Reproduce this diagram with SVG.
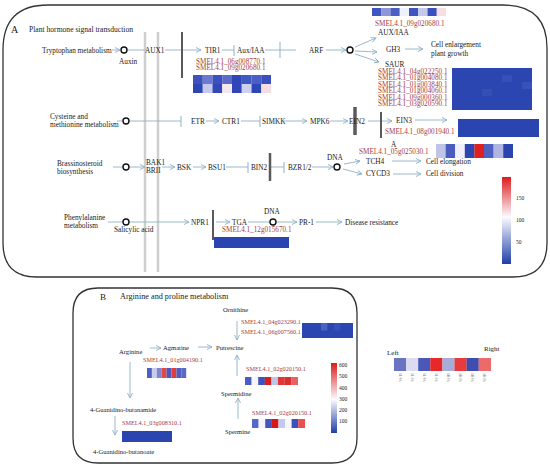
<svg xmlns="http://www.w3.org/2000/svg" width="550" height="468" viewBox="0 0 550 468">
<defs>
<style>
text{font-family:"Liberation Serif","Times New Roman",serif;fill:#1a1a1a;font-size:7.3px}
.g{fill:#a83c3c;font-size:7.2px}
.gb{fill:#a83c3c;font-size:6.2px}
.b{font-size:6.6px}
.c{stroke:#8fb1c6;stroke-width:0.9;fill:none}
.a{marker-end:url(#arr)}
.t{stroke:#8fb1c6;stroke-width:1}
.o{fill:#fff;stroke:#111;stroke-width:1.4}
.bar{stroke:#5a5a5a;stroke-width:3}
.gr{stroke:#cfcfcf;stroke-width:2.5}
.panel{fill:none;stroke:#333;stroke-width:1.3}
.lg{font-size:5.5px}
.sl{font-size:3.4px;fill:#777}
</style>
<marker id="arr" markerWidth="6" markerHeight="6" refX="5" refY="3" orient="auto" markerUnits="userSpaceOnUse">
<path d="M0,0.5 L5,3 L0,5.5" fill="none" stroke="#8fb1c6" stroke-width="0.9"/>
</marker>
<linearGradient id="cbA" x1="0" y1="0" x2="0" y2="1">
<stop offset="0" stop-color="#dd1c1c"/><stop offset="0.46" stop-color="#fbfbff"/><stop offset="1" stop-color="#1f3fa8"/>
</linearGradient>
<linearGradient id="cbB" x1="0" y1="0" x2="0" y2="1">
<stop offset="0" stop-color="#dd1c1c"/><stop offset="0.52" stop-color="#fbfbff"/><stop offset="1" stop-color="#1f3fa8"/>
</linearGradient>
</defs>
<rect width="550" height="468" fill="#fff"/>

<!-- Panel A frame -->
<path class="panel" d="M3,50 Q3,5 48,5 L503,5 Q547,5 547,48 L547,243 Q547,277 513,277 L37,277 Q3,277 3,243 Z"/>
<text x="11" y="33" style="font-size:10px">A</text>
<text x="29" y="32" style="font-size:7.6px">Plant hormone signal transduction</text>

<!-- membrane bars -->
<g id="membrane">
<line class="gr" x1="145" y1="32" x2="145" y2="272"/>
<line class="gr" x1="158" y1="32" x2="158" y2="272"/>
</g>

<!-- connectors -->
<g id="connectors">
<line class="c a" x1="112" y1="50" x2="120" y2="50"/>
<line class="c" x1="127" y1="50" x2="145" y2="50"/>
<line class="c a" x1="165" y1="50" x2="201" y2="50"/>
<line class="c" x1="222" y1="50" x2="234" y2="50"/><line class="t" x1="234" y1="45" x2="234" y2="56"/>
<line class="c" x1="265" y1="50" x2="296" y2="50"/><line class="t" x1="280" y1="42" x2="280" y2="58"/>
<line class="c a" x1="326" y1="50" x2="346" y2="50"/>
<line class="c a" x1="355" y1="47" x2="376" y2="38"/>
<line class="c a" x1="355" y1="51" x2="377" y2="52"/>
<line class="c a" x1="355" y1="54" x2="379" y2="62"/>
<line class="c a" x1="405" y1="49" x2="423" y2="49"/>

<line class="c" x1="117" y1="121" x2="123" y2="121"/>
<line class="c" x1="129" y1="121" x2="181" y2="121"/><line class="t" x1="181" y1="116" x2="181" y2="127"/>
<line class="c a" x1="206" y1="121" x2="219" y2="121"/>
<line class="c" x1="241" y1="121" x2="260" y2="121"/><line class="t" x1="260" y1="116" x2="260" y2="127"/>
<line class="c a" x1="284" y1="121" x2="307" y2="121"/>
<line class="c a" x1="330" y1="121" x2="348" y2="121"/>
<line class="c a" x1="368" y1="121" x2="392" y2="121"/>
<line class="c a" x1="415" y1="120" x2="447" y2="120"/>

<line class="c" x1="113" y1="167" x2="123" y2="167"/>
<line class="c a" x1="129" y1="167" x2="145" y2="167"/>
<line class="c a" x1="162" y1="167" x2="175" y2="167"/>
<line class="c a" x1="193" y1="167" x2="206" y2="167"/>
<line class="c" x1="226" y1="167" x2="248" y2="167"/><line class="t" x1="248" y1="162" x2="248" y2="173"/>
<line class="c" x1="270" y1="167" x2="284" y2="167"/><line class="t" x1="284" y1="162" x2="284" y2="173"/>
<line class="c a" x1="312" y1="167" x2="333" y2="167"/>
<line class="c a" x1="344" y1="164" x2="360" y2="161"/>
<line class="c a" x1="343" y1="169" x2="362" y2="174"/>
<line class="c a" x1="392" y1="161" x2="421" y2="161"/>
<line class="c a" x1="393" y1="174" x2="421" y2="174"/>

<line class="c" x1="108" y1="222" x2="123" y2="222"/>
<line class="c a" x1="129" y1="222" x2="189" y2="222"/>
<line class="c a" x1="216" y1="222" x2="230" y2="222"/>
<line class="c" x1="248" y1="222" x2="270" y2="222"/>
<line class="c a" x1="276" y1="222" x2="297" y2="222"/>
<line class="c a" x1="316" y1="222" x2="342" y2="222"/>

<!-- panel B -->
<line class="c a" x1="237" y1="321" x2="237" y2="340"/>
<line class="c a" x1="150" y1="348" x2="161" y2="348"/>
<line class="c a" x1="198" y1="347" x2="212" y2="347"/>
<line class="c a" x1="130" y1="362" x2="130" y2="398"/>
<line class="c a" x1="115" y1="416" x2="115" y2="435"/>
<line class="c a" x1="237" y1="376" x2="237" y2="355"/>
<line class="c a" x1="238" y1="419" x2="238" y2="398"/>
</g>

<!-- inhibitor bars -->
<g id="bars">
<line class="bar" x1="182" y1="32" x2="182" y2="78" style="stroke-width:2"/>
<line class="bar" x1="355" y1="107" x2="355" y2="135" style="stroke-width:3.5"/>
<line class="bar" x1="381" y1="112" x2="381" y2="138" style="stroke-width:2"/>
<line class="bar" x1="270" y1="153" x2="270" y2="181" style="stroke-width:2.5"/>
<line class="bar" x1="213" y1="210" x2="213" y2="240" style="stroke-width:2"/>
</g>

<!-- Row 1 -->
<g id="tryptophan"><text x="42" y="52.5">Tryptophan metabolism</text></g>
<g id="auxin"><circle class="o" cx="124" cy="50" r="3"/><text x="119" y="64">Auxin</text></g>
<g id="aux1"><text x="145" y="52.5">AUX1</text></g>
<g id="tir1"><text x="205" y="52.5">TIR1</text>
<text class="g" x="196" y="63.5">SMEL4.1_06g008770.1</text>
<text class="g" x="196" y="70">SMEL4.1_09g020680.1</text>
<g id="hm_tir1">
<rect x="193" y="75" width="9.8" height="9" fill="#3d52bd"/><rect x="202.75" y="75" width="9.8" height="9" fill="#6b79cf"/><rect x="212.5" y="75" width="9.8" height="9" fill="#3c50be"/><rect x="222.25" y="75" width="9.8" height="9" fill="#5c6bc9"/><rect x="232" y="75" width="9.8" height="9" fill="#2f45b8"/><rect x="241.75" y="75" width="9.8" height="9" fill="#4058c1"/><rect x="251.5" y="75" width="9.8" height="9" fill="#4b5ec6"/><rect x="261.25" y="75" width="9.75" height="9" fill="#3a50bf"/>
<rect x="193" y="84" width="9.8" height="9" fill="#2e45b4"/><rect x="202.75" y="84" width="9.8" height="9" fill="#c3c8ec"/><rect x="212.5" y="84" width="9.8" height="9" fill="#3148b6"/><rect x="222.25" y="84" width="9.8" height="9" fill="#f7e8ec"/><rect x="232" y="84" width="9.8" height="9" fill="#3046b6"/><rect x="241.75" y="84" width="9.8" height="9" fill="#cdd1ef"/><rect x="251.5" y="84" width="9.8" height="9" fill="#2f46b5"/><rect x="261.25" y="84" width="9.75" height="9" fill="#f6dde2"/>
</g></g>
<g id="auxiaa"><text x="237" y="52.5">Aux/IAA</text></g>
<g id="arf"><text x="309" y="52.5">ARF</text><circle class="o" cx="350" cy="50" r="3"/></g>
<g id="auxiaa2">
<rect x="372" y="8" width="9.3" height="8" fill="#3f55c0"/><rect x="381.25" y="8" width="9.3" height="8" fill="#8d97d8"/><rect x="390.5" y="8" width="9.3" height="8" fill="#4a5ec5"/><rect x="399.75" y="8" width="9.3" height="8" fill="#eef0fa"/><rect x="409" y="8" width="9.3" height="8" fill="#3f55c0"/><rect x="418.25" y="8" width="9.3" height="8" fill="#c4c9ec"/><rect x="427.5" y="8" width="9.3" height="8" fill="#3a50c0"/><rect x="436.75" y="8" width="9.25" height="8" fill="#f6dfe3"/>
<text class="g" x="375" y="26">SMEL4.1_09g020680.1</text>
<text x="378" y="34.5">AUX/IAA</text>
</g>
<g id="gh3"><text x="386" y="52">GH3</text></g>
<g id="cellenl"><text x="431" y="47">Cell enlargement</text><text x="431" y="56">plant growth</text></g>
<g id="saur"><text x="385" y="66.5">SAUR</text>
<text class="g" x="378" y="73.5">SMEL4.1_04g022250.1</text>
<text class="g" x="378" y="80">SMEL4.1_01g004080.1</text>
<text class="g" x="378" y="86.5">SMEL4.1_01g003840.1</text>
<text class="g" x="378" y="93">SMEL4.1_01g004060.1</text>
<text class="g" x="378" y="99.5">SMEL4.1_09g000360.1</text>
<text class="g" x="378" y="106">SMEL4.1_03g020590.1</text>
<g id="hm_saur">
<rect x="452" y="68" width="80" height="42" fill="#2b46b1"/>
<rect x="502" y="75" width="10" height="7" fill="#3550b6"/><rect x="482" y="89" width="10" height="7" fill="#3450b5"/><rect x="522" y="82" width="10" height="7" fill="#3753b8"/>
</g></g>

<!-- Row 2 -->
<g id="cysteine"><text x="50" y="119">Cysteine and</text><text x="50" y="127">methionine metabolism</text><circle class="o" cx="126" cy="121" r="3"/></g>
<g id="etr"><text x="191" y="123.5">ETR</text></g>
<g id="ctr1"><text x="222" y="123.5">CTR1</text></g>
<g id="simkk"><text x="262" y="123.5">SIMKK</text></g>
<g id="mpk6"><text x="310" y="123.5">MPK6</text></g>
<g id="ein2"><text x="349" y="123.5">EIN2</text></g>
<g id="ein3"><text x="396" y="122.5">EIN3</text>
<text class="g" x="385" y="134">SMEL4.1_08g001940.1</text>
<rect x="458" y="119" width="81" height="18" fill="#2a45b0"/>
</g>

<!-- Row 3 -->
<g id="brass"><text x="57" y="166">Brassinosteroid</text><text x="57" y="174">biosynthesis</text><circle class="o" cx="126" cy="167" r="3"/></g>
<g id="bak1"><text x="146" y="165">BAK1</text><text x="146" y="173">BRII</text></g>
<g id="bsk"><text x="177" y="169.5">BSK</text></g>
<g id="bsu1"><text x="208" y="169.5">BSU1</text></g>
<g id="bin2"><text x="251" y="169.5">BIN2</text></g>
<g id="bzr"><text x="288" y="169.5">BZR1/2</text></g>
<g id="dna1"><text x="327" y="160">DNA</text><circle class="o" cx="337" cy="167" r="3"/></g>
<g id="tch4"><text x="366" y="163.5">TCH4</text>
<text x="391" y="147">A</text>
<text class="g" x="359" y="154">SMEL4.1_05g025030.1</text>
<rect x="436" y="144" width="9.7" height="14" fill="#c0c4e6"/><rect x="445.6" y="144" width="9.7" height="14" fill="#4a5cc0"/><rect x="455.2" y="144" width="9.7" height="14" fill="#f0f0f6"/><rect x="464.8" y="144" width="9.7" height="14" fill="#2f46b2"/><rect x="474.4" y="144" width="9.7" height="14" fill="#e02020"/><rect x="484" y="144" width="9.7" height="14" fill="#5060c0"/><rect x="493.6" y="144" width="9.7" height="14" fill="#b0b4e0"/><rect x="503.2" y="144" width="9.8" height="14" fill="#2a45b0"/>
</g>
<g id="cycd3"><text x="366" y="176">CYCD3</text></g>
<g id="cellelong"><text x="426" y="163.5">Cell elongation</text></g>
<g id="celldiv"><text x="426" y="176">Cell division</text></g>

<!-- colorbar A -->
<g id="colorbarA">
<rect x="502" y="177" width="9" height="87" fill="url(#cbA)"/>
<text class="lg" x="516" y="200">150</text>
<text class="lg" x="516" y="222">100</text>
<text class="lg" x="516" y="244">50</text>
</g>

<!-- Row 4 -->
<g id="phenyl"><text x="64" y="220">Phenylalanine</text><text x="64" y="228">metabolism</text><circle class="o" cx="126" cy="222" r="3"/><text x="114" y="232">Salicylic acid</text></g>
<g id="npr1"><text x="191" y="224.5">NPR1</text></g>
<g id="tga"><text x="232" y="224.5">TGA</text>
<text class="g" x="222" y="231.5">SMEL4.1_12g015670.1</text>
<rect x="214" y="237" width="75" height="11" fill="#2a45b0"/>
</g>
<g id="dna2"><text x="264" y="214">DNA</text><circle class="o" cx="273" cy="222" r="3"/></g>
<g id="pr1"><text x="299" y="224.5">PR-1</text></g>
<g id="disease"><text x="345" y="224.5">Disease resistance</text></g>

<!-- Panel B -->
<path class="panel" d="M73,313 Q73,288 98,288 L332,288 Q357,288 357,313 L357,438 Q357,463 332,463 L98,463 Q73,463 73,438 Z"/>
<text x="100" y="300" style="font-size:9px">B</text>
<text x="120" y="299" style="font-size:8.2px">Arginine and proline metabolism</text>

<g id="ornithine"><text class="b" x="223" y="312">Ornithine</text>
<text class="gb" x="241" y="324">SMEL4.1_04g023290.1</text>
<text class="gb" x="241" y="334">SMEL4.1_06g007560.1</text>
<rect x="302" y="323" width="51" height="15" fill="#2b46b1"/>
<rect x="321" y="323" width="6.4" height="7.5" fill="#4a62c0"/><rect x="334" y="323" width="6.4" height="7.5" fill="#3550b6"/>
</g>
<g id="putrescine"><text class="b" x="216" y="349.5">Putrescine</text></g>
<g id="arginine"><text class="b" x="119" y="354">Arginine</text></g>
<g id="agmatine"><text class="b" x="163" y="350">Agmatine</text>
<text class="gb" x="143" y="362">SMEL4.1_01g004190.1</text>
<rect x="147" y="368" width="4.9" height="10" fill="#4d5fc2"/><rect x="151.9" y="368" width="4.9" height="10" fill="#c9cdea"/><rect x="156.8" y="368" width="4.9" height="10" fill="#7d88d0"/><rect x="161.7" y="368" width="4.9" height="10" fill="#e34848"/><rect x="166.6" y="368" width="4.9" height="10" fill="#4a5abf"/><rect x="171.5" y="368" width="4.9" height="10" fill="#e03c3c"/><rect x="176.4" y="368" width="4.9" height="10" fill="#4e5ec2"/><rect x="181.3" y="368" width="4.9" height="10" fill="#5a69c5"/>
</g>
<g id="guanbutanamide"><text class="b" x="90" y="412">4-Guanidino-butanamide</text>
<text class="gb" x="122" y="425">SMEL4.1_03g008310.1</text>
<rect x="122" y="431" width="50" height="11" fill="#2a45b0"/>
</g>
<g id="guanbutanoate"><text class="b" x="93" y="454">4-Guanidino-butanoate</text></g>
<g id="spermidine"><text class="gb" x="246" y="371">SMEL4.1_02g020150.1</text>
<rect x="245" y="377" width="6.7" height="8" fill="#4a5cc2"/><rect x="251.6" y="377" width="6.7" height="8" fill="#f5f5fb"/><rect x="258.2" y="377" width="6.7" height="8" fill="#3f53bd"/><rect x="264.8" y="377" width="6.7" height="8" fill="#d62020"/><rect x="271.4" y="377" width="6.7" height="8" fill="#c0c5ea"/><rect x="278" y="377" width="6.7" height="8" fill="#e23636"/><rect x="284.6" y="377" width="6.7" height="8" fill="#d83030"/><rect x="291.2" y="377" width="6.8" height="8" fill="#e86060"/>
<text class="b" x="221" y="396">Spermidine</text></g>
<g id="spermine"><text class="gb" x="252" y="415">SMEL4.1_02g020150.1</text>
<rect x="252" y="419" width="6.7" height="9" fill="#5668c6"/><rect x="258.6" y="419" width="6.7" height="9" fill="#f4f4fa"/><rect x="265.2" y="419" width="6.7" height="9" fill="#4456be"/><rect x="271.8" y="419" width="6.7" height="9" fill="#d81818"/><rect x="278.4" y="419" width="6.7" height="9" fill="#c4c8ec"/><rect x="285" y="419" width="6.7" height="9" fill="#f6f6fb"/><rect x="291.6" y="419" width="6.7" height="9" fill="#3c50bc"/><rect x="298.2" y="419" width="6.8" height="9" fill="#e85050"/>
<text class="b" x="225" y="434">Spermine</text></g>
<g id="colorbarB">
<rect x="331" y="363" width="6" height="70" fill="url(#cbB)"/>
<text class="lg" x="339" y="367">600</text>
<text class="lg" x="339" y="378">500</text>
<text class="lg" x="339" y="390">400</text>
<text class="lg" x="339" y="401">300</text>
<text class="lg" x="339" y="412">200</text>
<text class="lg" x="339" y="423">100</text>
</g>

<!-- sample legend -->
<g id="legend">
<text x="387" y="355" style="font-size:7px">Left</text>
<text x="484" y="351" style="font-size:7px">Right</text>
<rect x="394" y="358" width="12.2" height="13" fill="#6a74c0"/><rect x="406.1" y="358" width="12.2" height="13" fill="#dcdcf0"/><rect x="418.2" y="358" width="12.2" height="13" fill="#4a58b8"/><rect x="430.3" y="358" width="12.2" height="13" fill="#e82828"/><rect x="442.4" y="358" width="12.2" height="13" fill="#a8acd8"/><rect x="454.5" y="358" width="12.2" height="13" fill="#e83c3c"/><rect x="466.6" y="358" width="12.2" height="13" fill="#3e4eb0"/><rect x="478.7" y="358" width="12.3" height="13" fill="#ec6a6a"/>
<g class="sl">
<text class="sl" transform="translate(398.5,373) rotate(90)">SL-0h</text>
<text class="sl" transform="translate(410.6,373) rotate(90)">SL-6h</text>
<text class="sl" transform="translate(422.7,373) rotate(90)">SL-0h</text>
<text class="sl" transform="translate(434.8,373) rotate(90)">SL-6h</text>
<text class="sl" transform="translate(446.9,373) rotate(90)">SR-0h</text>
<text class="sl" transform="translate(459,373) rotate(90)">SR-6h</text>
<text class="sl" transform="translate(471.1,373) rotate(90)">SR-0h</text>
<text class="sl" transform="translate(483.2,373) rotate(90)">SR-6h</text>
</g>
</g>
</svg>
